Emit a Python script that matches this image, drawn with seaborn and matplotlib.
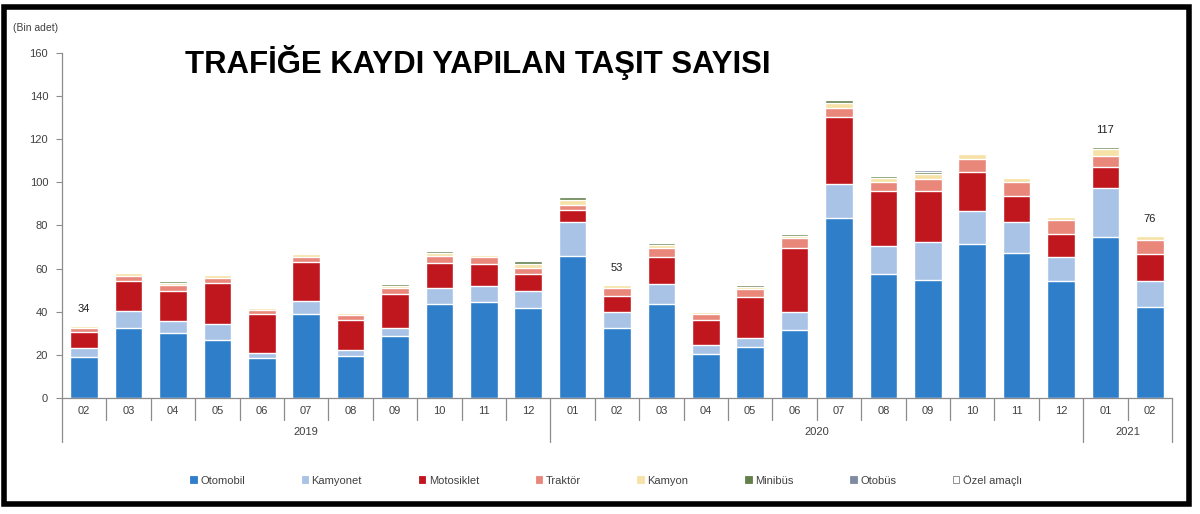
import numpy as np
import pandas as pd
import matplotlib
matplotlib.use("Agg")
import matplotlib.pyplot as plt
from matplotlib.patches import Patch, Rectangle
import seaborn as sns

# months (x axis)
donem = ["2019-02", "2019-03", "2019-04", "2019-05", "2019-06", "2019-07", "2019-08",
         "2019-09", "2019-10", "2019-11", "2019-12",
         "2020-01", "2020-02", "2020-03", "2020-04", "2020-05", "2020-06", "2020-07",
         "2020-08", "2020-09", "2020-10", "2020-11", "2020-12",
         "2021-01", "2021-02"]
ay_etiket = [d[-2:] for d in donem]
yillar = ["2019", "2020", "2021"]

# thousand vehicles per month
otomobil = [18.9, 32.6, 30.0, 26.9, 18.4, 39.0, 19.6, 28.8, 43.6, 44.7, 41.9,
            66.0, 32.6, 43.6, 20.3, 23.8, 31.5, 83.3, 57.4, 54.7, 71.4, 67.1, 54.4,
            74.5, 42.4]
kamyonet = [4.1, 7.8, 5.7, 7.3, 2.3, 6.0, 2.7, 3.5, 7.6, 7.4, 7.9,
            15.8, 7.1, 9.3, 4.3, 4.2, 8.5, 15.8, 13.3, 17.5, 15.5, 14.7, 10.8,
            22.7, 12.0]
motosiklet = [7.8, 14.0, 14.1, 19.0, 18.3, 18.2, 13.9, 15.9, 11.3, 10.1, 7.7,
              5.4, 7.6, 12.3, 11.6, 18.7, 29.4, 31.4, 25.3, 23.8, 17.8, 11.9, 10.9,
              9.8, 12.4]
traktor = [1.5, 2.2, 2.6, 2.6, 1.8, 2.3, 2.3, 2.7, 3.4, 3.1, 2.7,
           2.3, 3.6, 4.2, 2.6, 3.7, 4.6, 3.9, 4.3, 5.4, 6.1, 6.3, 6.5,
           5.0, 6.4]
kamyon = [1.1, 1.2, 1.1, 1.2, 0.8, 1.3, 1.1, 1.2, 1.5, 1.0, 2.0,
          2.3, 1.5, 1.6, 0.9, 1.2, 1.3, 2.3, 1.9, 2.3, 2.4, 1.9, 1.2,
          3.5, 1.7]
minibus = [0.5, 0.7, 0.7, 0.7, 0.4, 0.6, 0.5, 0.8, 0.9, 0.6, 1.2,
           1.3, 0.5, 0.8, 0.6, 0.7, 0.8, 1.3, 0.8, 1.3, 0.6, 0.6, 0.8,
           1.0, 0.7]
otobus = [0.2, 0.3, 0.3, 0.3, 0.2, 0.3, 0.2, 0.3, 0.4, 0.3, 0.5,
          0.6, 0.2, 0.4, 0.3, 0.3, 0.3, 0.6, 0.4, 0.6, 0.3, 0.3, 0.3,
          0.5, 0.3]
ozel_amacli = [0.2, 0.2, 0.2, 0.3, 0.1, 0.2, 0.2, 0.3, 0.3, 0.2, 0.4,
               0.5, 0.2, 0.3, 0.2, 0.3, 0.3, 0.4, 0.3, 0.4, 0.2, 0.2, 0.3,
               0.3, 0.2]

# months that carry a total label
etiketli = ["2019-02", "2020-02", "2021-01", "2021-02"]

seriler = ["Otomobil", "Kamyonet", "Motosiklet", "Traktör", "Kamyon",
           "Minibüs", "Otobüs", "Özel amaçlı"]
renkler = ["#2F7EC9", "#A9C3E6", "#C0161E", "#E8877A", "#F6E2A6",
           "#62804A", "#7D8CA0", "#FFFFFF"]

df = pd.DataFrame({"donem": donem, "Otomobil": otomobil, "Kamyonet": kamyonet,
                   "Motosiklet": motosiklet, "Traktör": traktor, "Kamyon": kamyon,
                   "Minibüs": minibus, "Otobüs": otobus, "Özel amaçlı": ozel_amacli})
kum = df[seriler].cumsum(axis=1)
kum["donem"] = df["donem"]

sns.set_theme(style="white")
plt.rcParams["font.family"] = ["Liberation Sans", "DejaVu Sans"]

fig = plt.figure(figsize=(12, 5.14), dpi=100)
ax = fig.add_axes([0.0517, 0.2257, 0.925, 0.6712])

# stacked bars: draw the cumulative totals from the top layer down
for ad, renk in reversed(list(zip(seriler, renkler))):
    sns.barplot(data=kum, x="donem", y=ad, order=donem, color=renk,
                saturation=1, width=0.62, ax=ax)

ax.set_xlim(-0.5, len(donem) - 0.5)
ax.set_ylim(0, 160)
ax.set_yticks(np.arange(0, 161, 20))
ax.set_xlabel("")
ax.set_ylabel("")

gri = "#8C8C8C"
yazi = "#404040"
sns.despine(ax=ax, top=True, right=True)
ax.spines["left"].set_color(gri)
ax.spines["bottom"].set_color(gri)
ax.spines["left"].set_linewidth(0.9)
ax.spines["bottom"].set_linewidth(0.9)
ax.tick_params(axis="y", length=4, width=0.8, color=gri, labelsize=8,
               labelcolor=yazi, pad=6, left=True)
ax.set_xticks(range(len(donem)))
ax.set_xticklabels(ay_etiket)
ax.tick_params(axis="x", length=0, labelsize=8, labelcolor=yazi, pad=6)

# category separators below the axis
trans = ax.get_xaxis_transform()
sinirlar = [0, 11, 23, 25]
for i in range(len(donem) + 1):
    alt = -0.128 if i in sinirlar else -0.064
    ax.plot([i - 0.5, i - 0.5], [0, alt], transform=trans, clip_on=False,
            color=gri, lw=0.9)
for yil, (a, b) in zip(yillar, zip(sinirlar[:-1], sinirlar[1:])):
    ax.text((a + b - 1) / 2, -0.099, yil, transform=trans, ha="center",
            va="center", fontsize=8, color=yazi)

# total labels
toplam = kum["Özel amaçlı"].values
for d in etiketli:
    i = donem.index(d)
    ax.annotate(f"{toplam[i]:.0f}", (i, toplam[i]), xytext=(0, 11),
                textcoords="offset points", ha="center", va="center",
                fontsize=8, color="#202020")

fig.text(0.011, 0.9455, "(Bin adet)", fontsize=7.5, color=yazi, va="center")
fig.text(0.154, 0.879, "TRAFİĞE KAYDI YAPILAN TAŞIT SAYISI", fontsize=22.4,
         fontweight="bold", color="black", va="center", ha="left")

tutamac = [Patch(facecolor=r, edgecolor=("#7F7F7F" if r == "#FFFFFF" else r),
                 linewidth=0.6) for r in renkler]
fig.legend(tutamac, seriler, loc="center", bbox_to_anchor=(0.505, 0.066),
           ncol=8, frameon=False, fontsize=8, handlelength=0.6,
           handleheight=0.6, handletextpad=0.3, columnspacing=5.1,
           labelcolor=yazi)

fig.add_artist(Rectangle((4 / 1200, 1 - 504 / 514), 1185 / 1200, 497 / 514,
                         transform=fig.transFigure, fill=False,
                         edgecolor="black", linewidth=4))

fig.savefig("out.png", dpi=100, facecolor="white")
